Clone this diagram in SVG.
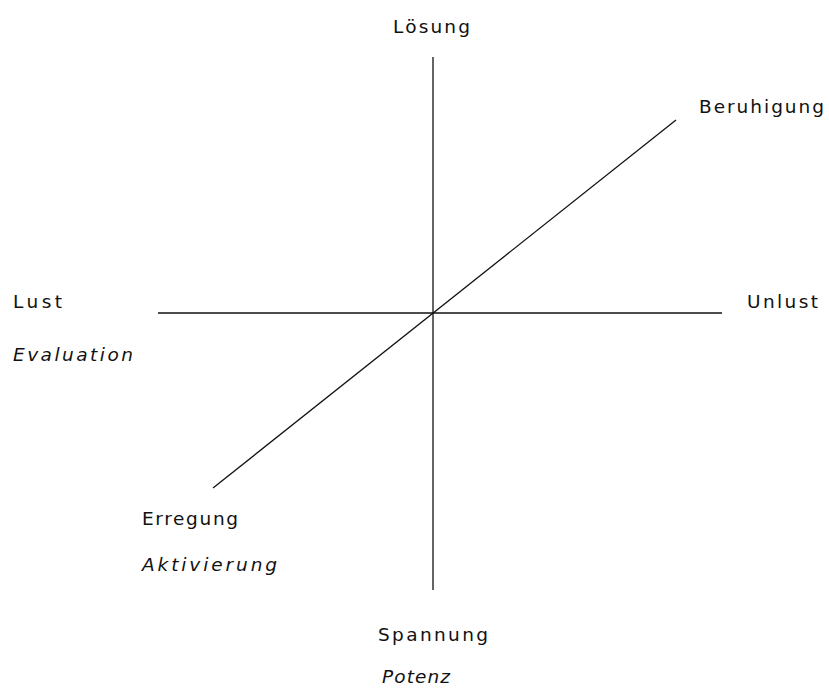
<svg xmlns="http://www.w3.org/2000/svg" width="829" height="689" viewBox="0 0 829 689">
<style>
text{font-family:"DejaVu Sans","Liberation Sans",sans-serif;font-size:18.5px;fill:#111}
.i{font-style:italic}
line{stroke:#111;stroke-width:1.3}
</style>
<rect width="829" height="689" fill="#fff"/>
<g id="connectors">
<line x1="433" y1="57" x2="433" y2="590"/>
<line x1="158" y1="313" x2="722" y2="313"/>
<line x1="213" y1="488" x2="676" y2="120"/>
</g>
<g id="loesung"><text x="393" y="33" textLength="77" lengthAdjust="spacing">Lösung</text></g>
<g id="beruhigung"><text x="699" y="113" textLength="125" lengthAdjust="spacing">Beruhigung</text></g>
<g id="lust"><text x="13" y="308" textLength="49" lengthAdjust="spacing">Lust</text><text class="i" x="13" y="361" textLength="120" lengthAdjust="spacing">Evaluation</text></g>
<g id="unlust"><text x="747" y="308" textLength="71" lengthAdjust="spacing">Unlust</text></g>
<g id="erregung"><text x="142" y="525" textLength="96" lengthAdjust="spacing">Erregung</text><text class="i" x="142" y="571" textLength="135" lengthAdjust="spacing">Aktivierung</text></g>
<g id="spannung"><text x="378" y="641" textLength="110" lengthAdjust="spacing">Spannung</text><text class="i" x="382" y="683" textLength="68" lengthAdjust="spacing">Potenz</text></g>
</svg>
